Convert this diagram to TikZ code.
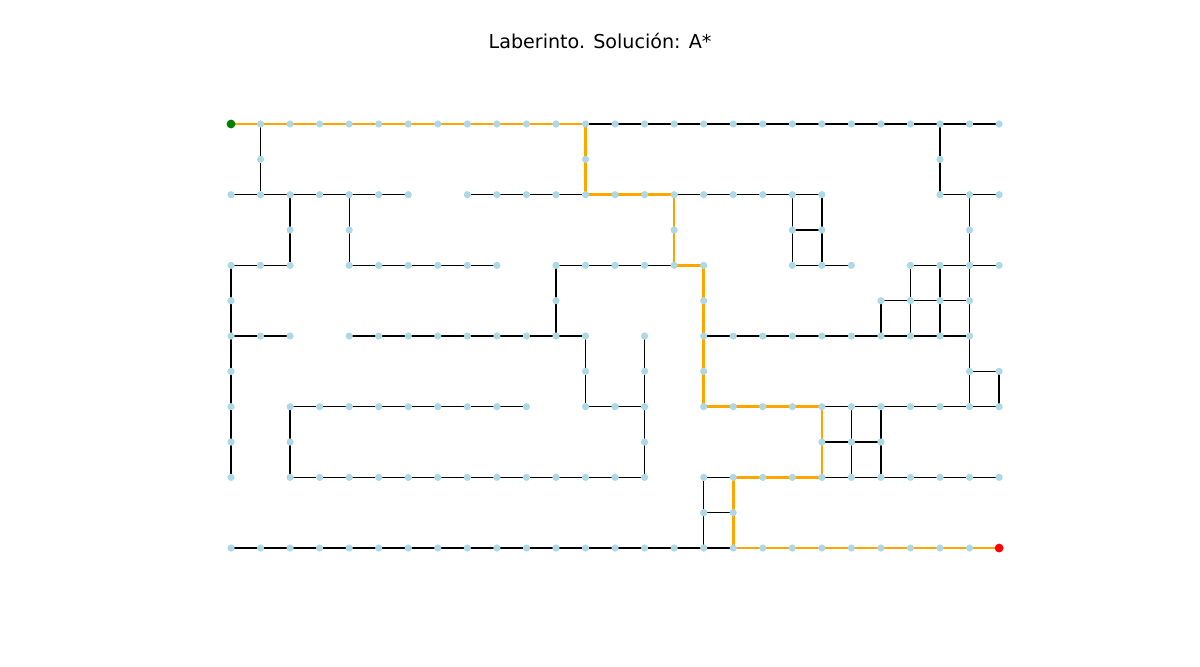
\documentclass[tikz,border=0pt]{standalone}
\usepackage{fontspec}
\setmainfont{DejaVu Sans}
\usetikzlibrary{backgrounds}

\definecolor{cellblue}{RGB}{173,216,230}
\definecolor{routeorange}{RGB}{255,165,0}
\definecolor{startgreen}{RGB}{0,128,0}

\begin{document}
\begin{tikzpicture}[x=0.7385cm,y=-0.8833cm,
    cell/.style={circle,fill=cellblue,inner sep=0pt,minimum size=0.18cm},
    startcell/.style={circle,fill=startgreen,inner sep=0pt,minimum size=0.22cm},
    goalcell/.style={circle,fill=red,inner sep=0pt,minimum size=0.22cm},
    wall/.style={black,line width=0.95pt},
    route/.style={routeorange,line width=1.9pt}]

    % runs of free cells: row/first column/last column
    \def\runs{0/0/26, 1/1/1, 1/12/12, 1/24/24,
        2/0/6, 2/8/20, 2/24/26,
        3/2/2, 3/4/4, 3/15/15, 3/19/20, 3/25/25,
        4/0/2, 4/4/9, 4/11/16, 4/19/21, 4/23/26,
        5/0/0, 5/11/11, 5/16/16, 5/22/25,
        6/0/2, 6/4/12, 6/14/14, 6/16/25,
        7/0/0, 7/12/12, 7/14/14, 7/16/16, 7/25/26,
        8/0/0, 8/2/10, 8/12/14, 8/16/26,
        9/0/0, 9/2/2, 9/14/14, 9/20/22,
        10/0/0, 10/2/14, 10/16/26,
        11/16/17, 12/0/26}
    % vertical passages: column/first row/last row
    \def\shafts{0/4/10, 1/0/2, 2/2/4, 2/8/10, 4/2/4, 11/4/6, 12/0/2, 12/6/8,
        14/6/10, 15/2/4, 16/4/8, 16/10/12, 17/10/12, 19/2/4, 20/2/4, 20/8/10,
        21/8/10, 22/5/6, 22/8/10, 23/4/6, 24/0/2, 24/4/6, 25/2/8, 26/7/8}

    \useasboundingbox (-7.82,-3.51) rectangle (32.80,15.34);

    % title
    \node[anchor=base,font=\fontsize{13.6}{16}\selectfont] (title) at (12.49,-2.15) {Laberinto. Solución: A*};

    % cells
    \foreach \r/\a/\b in \runs
        \foreach \c in {\a,...,\b}
            \node[cell] (n-\c-\r) at (\c,\r) {};

    % passages behind the cells
    \begin{scope}[on background layer]
        \foreach \r/\a/\b in \runs {
            \ifnum\a<\b
                \draw[wall] (n-\a-\r.center) -- (n-\b-\r.center);
            \fi
        }
        \foreach \c/\a/\b in \shafts
            \draw[wall] (n-\c-\a.center) -- (n-\c-\b.center);

        % A* solution
        \draw[route] (n-0-0.center) -- (n-12-0.center) -- (n-12-2.center) -- (n-15-2.center)
            -- (n-15-4.center) -- (n-16-4.center) -- (n-16-8.center) -- (n-20-8.center)
            -- (n-20-10.center) -- (n-17-10.center) -- (n-17-12.center) -- (n-26-12.center);
    \end{scope}

    % start and goal
    \node[startcell] (start) at (n-0-0) {};
    \node[goalcell] (goal) at (n-26-12) {};

\end{tikzpicture}
\end{document}
